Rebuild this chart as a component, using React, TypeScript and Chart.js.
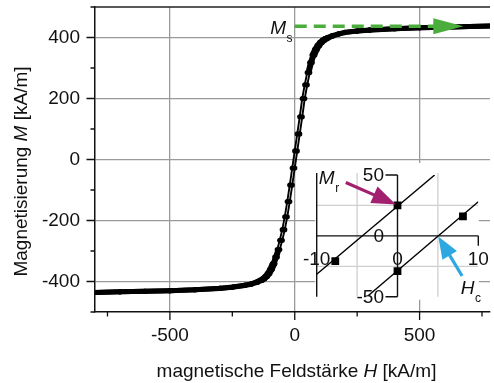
import React, { useEffect, useRef } from 'react';
import { Chart, registerables } from 'chart.js';

Chart.register(...registerables);

const FONT = '"Liberation Sans", Arial, Helvetica, sans-serif';
const TEXT = '#111';
const GREEN = '#4BAE3C';
const MAGENTA = '#A2206F';
const BLUE = '#2EA8E0';

// ---- main hysteresis loop (H in kA/m, M in kA/m) ----
const H_DESC = [800, 700, 600, 500, 400, 300, 250, 200, 175, 150, 130, 120, 110, 100, 90, 80, 70, 60, 50, 40, 30, 20, 10, 0, -10, -20, -30, -40, -50, -60, -70, -80, -90, -100, -110, -120, -130, -150, -175, -200, -250, -300, -400, -500, -600, -700, -800];
const M_DESC = [438, 436, 434, 432, 429, 425, 421, 417, 412, 406, 400, 396, 391, 384, 374, 361, 343, 318, 285, 245, 200, 140, 84, 28, -28, -84, -138, -188, -230, -265, -295, -320, -342, -360, -374, -384, -391, -400, -408, -412, -418, -422, -427, -430, -432, -434, -436];
const H_ASC = [-800, -700, -600, -500, -400, -300, -250, -200, -175, -150, -130, -120, -110, -100, -90, -80, -70, -60, -50, -40, -30, -20, -10, 0, 10, 20, 30, 40, 50, 60, 70, 80, 90, 100, 110, 120, 130, 150, 175, 200, 250, 300, 400, 500, 600, 700, 800];
const M_ASC = [-436, -434, -432, -430, -427, -423, -419, -413, -409, -403, -396, -391, -384, -374, -360, -342, -320, -295, -265, -230, -188, -138, -84, -28, 28, 84, 140, 200, 245, 285, 318, 343, 361, 374, 384, 391, 396, 404, 411, 416, 421, 424, 429, 432, 434, 436, 438];

const X_MIN = -800;
const X_MAX = 782;
const Y_MIN = -500;
const Y_MAX = 500;
const X_ALL_TICKS = [-750, -500, -250, 0, 250, 500, 750];
const X_MAJOR = [-500, 0, 500];
const Y_ALL_TICKS = [-500, -400, -300, -200, -100, 0, 100, 200, 300, 400, 500];
const Y_MAJOR = [-400, -200, 0, 200, 400];

// saturation annotation
const MS_LEVEL = 437;
const MS_ARROW_H = [0, 675];
const MS_LABEL_POS = [-98, 410];

// ---- inset (zoom around origin) ----
const INSET_SQ_H = [-7.7, 0, 0, 8.1];
const INSET_SQ_M = [-20.7, 25, -29, 16];
const UPPER_FIT_H = [-10, 4.6];
const UPPER_FIT_M = [-31.5, 50];
const LOWER_FIT_H = [-3.6, 10];
const LOWER_FIT_M = [-49, 28];
const INSET_X_LABELS = [-10, 0, 10];
const INSET_Y_LABELS = [-50, 0, 50];
const INSET_X_GRID = [-5, 5];
const INSET_Y_GRID = [-25, 25];
const MR_ARROW = [-6.4, 43.9, -0.2, 25.8];
const HC_ARROW = [8.0, -33, 5.05, -0.6];
const MR_LABEL_POS = [-9.74, 42.3];
const HC_LABEL_POS = [7.83, -47.9];

type Part = { t: string; i?: boolean };

function richText(ctx: CanvasRenderingContext2D, parts: Part[], x: number, y: number, size: number) {
  let total = 0;
  const widths = parts.map((p) => {
    ctx.font = `${p.i ? 'italic ' : ''}${size}px ${FONT}`;
    const w = ctx.measureText(p.t).width;
    total += w;
    return w;
  });
  let cx = x - total / 2;
  ctx.textAlign = 'left';
  ctx.textBaseline = 'alphabetic';
  parts.forEach((p, k) => {
    ctx.font = `${p.i ? 'italic ' : ''}${size}px ${FONT}`;
    ctx.fillText(p.t, cx, y);
    cx += widths[k];
  });
}

function subLabel(ctx: CanvasRenderingContext2D, main: string, sub: string, x: number, y: number) {
  ctx.textAlign = 'left';
  ctx.textBaseline = 'alphabetic';
  ctx.fillStyle = TEXT;
  ctx.font = `italic 19px ${FONT}`;
  ctx.fillText(main, x, y);
  const w = ctx.measureText(main).width;
  ctx.font = `12px ${FONT}`;
  ctx.fillText(sub, x + w + 0.5, y + 8);
}

function arrow(ctx: CanvasRenderingContext2D, x1: number, y1: number, x2: number, y2: number, color: string, lw: number, headLen: number, half: number, dash?: number[]) {
  const dx = x2 - x1;
  const dy = y2 - y1;
  const len = Math.hypot(dx, dy);
  const ux = dx / len;
  const uy = dy / len;
  const bx = x2 - ux * headLen;
  const by = y2 - uy * headLen;
  ctx.save();
  ctx.strokeStyle = color;
  ctx.fillStyle = color;
  ctx.lineWidth = lw;
  if (dash) ctx.setLineDash(dash);
  ctx.beginPath();
  ctx.moveTo(x1, y1);
  ctx.lineTo(bx + ux * 2, by + uy * 2);
  ctx.stroke();
  ctx.setLineDash([]);
  ctx.beginPath();
  ctx.moveTo(x2, y2);
  ctx.lineTo(bx - uy * half, by + ux * half);
  ctx.lineTo(bx + uy * half, by - ux * half);
  ctx.closePath();
  ctx.fill();
  ctx.restore();
}

const mainDecor = {
  id: 'mainDecor',
  afterDraw(chart: any) {
    const { ctx, chartArea: a } = chart;
    const xs = chart.scales.x;
    const ys = chart.scales.y;
    ctx.save();
    // top frame line
    ctx.strokeStyle = '#222';
    ctx.lineWidth = 1.5;
    ctx.beginPath();
    ctx.moveTo(a.left, a.top);
    ctx.lineTo(a.right, a.top);
    ctx.stroke();
    // outward tick marks
    ctx.strokeStyle = TEXT;
    ctx.lineWidth = 1.3;
    ctx.beginPath();
    X_ALL_TICKS.forEach((v) => {
      const px = xs.getPixelForValue(v);
      const len = X_MAJOR.includes(v) ? 8 : 4.5;
      ctx.moveTo(px, a.bottom);
      ctx.lineTo(px, a.bottom + len);
    });
    Y_ALL_TICKS.forEach((v) => {
      const py = ys.getPixelForValue(v);
      const len = Y_MAJOR.includes(v) ? 8.5 : 4.5;
      ctx.moveTo(a.left, py);
      ctx.lineTo(a.left - len, py);
    });
    ctx.stroke();

    // Ms dashed arrow
    const yMs = ys.getPixelForValue(MS_LEVEL);
    arrow(ctx, xs.getPixelForValue(MS_ARROW_H[0]), yMs, xs.getPixelForValue(MS_ARROW_H[1]), yMs, GREEN, 3.5, 30, 8, [12, 7]);
    subLabel(ctx, 'M', 's', xs.getPixelForValue(MS_LABEL_POS[0]), ys.getPixelForValue(MS_LABEL_POS[1]));

    // axis titles
    ctx.fillStyle = TEXT;
    richText(ctx, [{ t: 'magnetische Feldstärke ' }, { t: 'H', i: true }, { t: ' [kA/m]' }], 296.5, 377, 19);
    ctx.save();
    ctx.translate(27, 171.5);
    ctx.rotate(-Math.PI / 2);
    richText(ctx, [{ t: 'Magnetisierung ' }, { t: 'M', i: true }, { t: ' [kA/m]' }], 0, 0, 19);
    ctx.restore();
    ctx.restore();
  },
};

const insetDecor = {
  id: 'insetDecor',
  beforeDatasetsDraw(chart: any) {
    const { ctx } = chart;
    const xs = chart.scales.x;
    const ys = chart.scales.y;
    const L = xs.getPixelForValue(-10);
    const R = xs.getPixelForValue(10);
    const T = ys.getPixelForValue(50);
    const B = ys.getPixelForValue(-50);
    const x0 = xs.getPixelForValue(0);
    const y0 = ys.getPixelForValue(0);
    ctx.save();
    ctx.fillStyle = '#fff';
    ctx.fillRect(L - 1.5, T - 12, R - L + 2, B - T + 15);
    // grid
    ctx.strokeStyle = '#cfcfcf';
    ctx.lineWidth = 1.3;
    ctx.beginPath();
    INSET_X_GRID.forEach((v) => {
      const px = xs.getPixelForValue(v);
      ctx.moveTo(px, T - 2);
      ctx.lineTo(px, B);
    });
    INSET_Y_GRID.forEach((v) => {
      const py = ys.getPixelForValue(v);
      ctx.moveTo(L, py);
      ctx.lineTo(R, py);
    });
    ctx.stroke();
    // frame + axes
    ctx.strokeStyle = '#111';
    ctx.lineWidth = 1.4;
    ctx.beginPath();
    ctx.moveTo(L, T - 2);
    ctx.lineTo(L, B);
    ctx.moveTo(x0, T);
    ctx.lineTo(x0, B);
    ctx.moveTo(L, y0);
    ctx.lineTo(R, y0);
    // ticks
    ctx.moveTo(x0, T);
    ctx.lineTo(x0 - 12, T);
    ctx.moveTo(x0, B);
    ctx.lineTo(x0 - 12, B);
    ctx.moveTo(R, y0);
    ctx.lineTo(R, y0 + 10);
    ctx.stroke();
    // labels
    ctx.fillStyle = TEXT;
    ctx.font = `19px ${FONT}`;
    ctx.textAlign = 'right';
    ctx.textBaseline = 'middle';
    INSET_Y_LABELS.forEach((v) => ctx.fillText(String(v), x0 - 13.5, ys.getPixelForValue(v) + 1));
    ctx.textAlign = 'center';
    INSET_X_LABELS.forEach((v) => ctx.fillText(String(v), xs.getPixelForValue(v), y0 + 23.5));
    ctx.restore();
  },
  afterDatasetsDraw(chart: any) {
    const { ctx } = chart;
    const xs = chart.scales.x;
    const ys = chart.scales.y;
    arrow(ctx, xs.getPixelForValue(MR_ARROW[0]), ys.getPixelForValue(MR_ARROW[1]), xs.getPixelForValue(MR_ARROW[2]), ys.getPixelForValue(MR_ARROW[3]), MAGENTA, 3.2, 24, 9);
    arrow(ctx, xs.getPixelForValue(HC_ARROW[0]), ys.getPixelForValue(HC_ARROW[1]), xs.getPixelForValue(HC_ARROW[2]), ys.getPixelForValue(HC_ARROW[3]), BLUE, 3.2, 22, 8.5);
    ctx.save();
    subLabel(ctx, 'M', 'r', xs.getPixelForValue(MR_LABEL_POS[0]), ys.getPixelForValue(MR_LABEL_POS[1]));
    subLabel(ctx, 'H', 'c', xs.getPixelForValue(HC_LABEL_POS[0]), ys.getPixelForValue(HC_LABEL_POS[1]));
    ctx.restore();
  },
};

const segWidth = (ctx: any) => {
  const m = (Math.abs(ctx.p0.parsed.y) + Math.abs(ctx.p1.parsed.y)) / 2;
  if (m > 335) return 5;
  if (m > 295) return 3.6;
  return 1.9;
};

export default function App() {
  const mainRef = useRef<HTMLCanvasElement>(null);
  const insetRef = useRef<HTMLCanvasElement>(null);

  useEffect(() => {
    const zeroPad = (s: any) => {
      s.paddingTop = 0;
      s.paddingBottom = 0;
      s.paddingLeft = 0;
      s.paddingRight = 0;
    };
    const branch = (hs: number[], ms: number[]) => hs.map((h, i) => ({ x: h, y: ms[i] }));
    const lineStyle = {
      borderColor: '#000',
      backgroundColor: '#000',
      pointRadius: 2.6,
      pointBorderWidth: 0,
      pointBackgroundColor: '#000',
      borderCapStyle: 'round',
      borderJoinStyle: 'round',
      segment: { borderWidth: segWidth },
    };
    const main = new Chart(mainRef.current!, {
      type: 'line',
      data: {
        datasets: [
          { data: branch(H_DESC, M_DESC), ...lineStyle } as any,
          { data: branch(H_ASC, M_ASC), ...lineStyle } as any,
        ],
      },
      options: {
        responsive: false,
        animation: false,
        devicePixelRatio: 1,
        layout: { padding: { top: 7, right: 0, left: 0, bottom: 0 } },
        plugins: { legend: { display: false }, tooltip: { enabled: false } },
        scales: {
          x: {
            type: 'linear',
            min: X_MIN,
            max: X_MAX,
            afterFit: (s: any) => {
              s.height = 71;
              zeroPad(s);
            },
            border: { display: true, color: '#111', width: 1.5 },
            grid: {
              drawTicks: false,
              lineWidth: 1.3,
              color: (c: any) => (c.tick && X_MAJOR.includes(c.tick.value) ? '#9a9a9a' : 'rgba(0,0,0,0)'),
            },
            ticks: {
              stepSize: 250,
              includeBounds: false,
              autoSkip: false,
              maxRotation: 0,
              padding: 12,
              color: TEXT,
              font: { family: FONT, size: 19 },
              callback: (v: any) => (X_MAJOR.includes(Number(v)) ? String(v) : ''),
            },
          },
          y: {
            type: 'linear',
            min: Y_MIN,
            max: Y_MAX,
            afterFit: (s: any) => {
              s.width = 95;
              zeroPad(s);
            },
            border: { display: true, color: '#111', width: 1.5 },
            grid: {
              drawTicks: false,
              lineWidth: 1.3,
              color: (c: any) => (c.tick && Y_MAJOR.includes(c.tick.value) ? '#9a9a9a' : 'rgba(0,0,0,0)'),
            },
            ticks: {
              stepSize: 100,
              autoSkip: false,
              padding: 15,
              color: TEXT,
              font: { family: FONT, size: 19 },
              callback: (v: any) => (Y_MAJOR.includes(Number(v)) ? String(v) : ''),
            },
          },
        },
      } as any,
      plugins: [mainDecor],
    });

    const inset = new Chart(insetRef.current!, {
      type: 'scatter',
      data: {
        datasets: [
          { type: 'line', data: branch(UPPER_FIT_H, UPPER_FIT_M), borderColor: '#000', borderWidth: 1.4, pointRadius: 0 } as any,
          { type: 'line', data: branch(LOWER_FIT_H, LOWER_FIT_M), borderColor: '#000', borderWidth: 1.4, pointRadius: 0 } as any,
          { type: 'scatter', data: branch(INSET_SQ_H, INSET_SQ_M), pointStyle: 'rect', pointRadius: 5.5, backgroundColor: '#000', borderColor: '#000', borderWidth: 0 } as any,
        ],
      },
      options: {
        responsive: false,
        animation: false,
        devicePixelRatio: 1,
        layout: { padding: { left: 26.7, right: 15.7, top: 15, bottom: 13.3 } },
        plugins: { legend: { display: false }, tooltip: { enabled: false } },
        scales: {
          x: { type: 'linear', min: -10, max: 10, display: false },
          y: { type: 'linear', min: -50, max: 50, display: false },
        },
      } as any,
      plugins: [insetDecor],
    });

    return () => {
      main.destroy();
      inset.destroy();
    };
  }, []);

  return (
    <div style={{ position: 'absolute', left: 0, top: 0, width: 494, height: 383, background: '#fff' }}>
      <canvas ref={mainRef} width={494} height={383} style={{ position: 'absolute', left: 0, top: 0, width: 494, height: 383 }} />
      <canvas ref={insetRef} width={204} height={150} style={{ position: 'absolute', left: 290, top: 160, width: 204, height: 150 }} />
    </div>
  );
}
